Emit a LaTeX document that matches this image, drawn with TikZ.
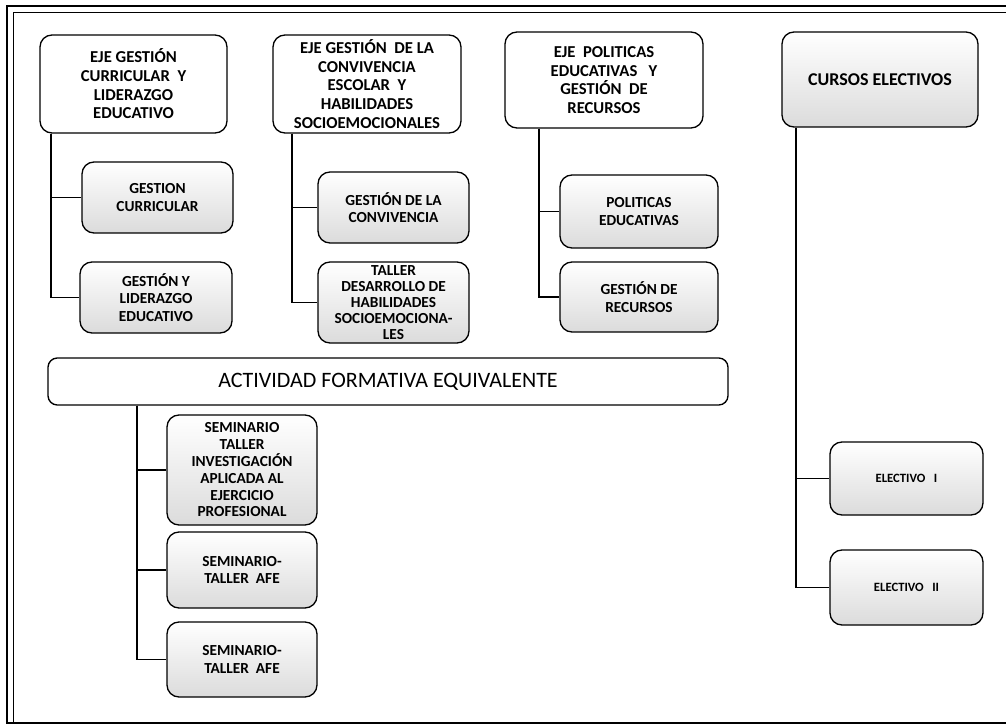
\documentclass[tikz,border=0pt]{standalone}
\usepackage{fontspec}
\setmainfont{Carlito}
\usetikzlibrary{positioning}

\tikzset{every picture/.style={line width=0.75pt}}
\tikzset{
  ejebox/.style={draw, line width=1pt, rounded corners=9pt, align=center, inner sep=2pt,
    font=\fontsize{12.5}{14}\selectfont\bfseries},
  subbox/.style={draw, line width=1pt, rounded corners=9pt, align=center, inner sep=2pt,
    top color=white, middle color=white, bottom color=gray!28,
    font=\fontsize{11.5}{13}\selectfont\bfseries},
  branch/.style={line width=1.3pt}
}

\begin{document}
\begin{tikzpicture}[x=0.75pt,y=0.75pt,yscale=-1,xscale=1]
\useasboundingbox (0,0) rectangle (1006,727);

%Frame
\draw [line width=1pt] (1006,6) -| (7,723) -- (1006,723) ;
\draw [line width=0.6pt] (1006,12) -| (13,723) ;

%Shape: Rounded Rect [id:eje1]
\node [ejebox, minimum width=140.25pt, minimum height=73.5pt] (eje1) at (133.5,84) {EJE GESTIÓN\\CURRICULAR\ \ Y\\LIDERAZGO\\EDUCATIVO};
%Shape: Rounded Rect [id:gc]
\node [subbox, minimum width=113.25pt, minimum height=53.25pt] (gc) at (157.5,197.5) {GESTION\\CURRICULAR};
%Shape: Rounded Rect [id:gl]
\node [subbox, minimum width=114pt, minimum height=53.25pt] (gl) at (156,297.5) {GESTIÓN Y\\LIDERAZGO\\EDUCATIVO};

%Shape: Rounded Rect [id:eje2]
\node [ejebox, minimum width=141pt, minimum height=73.5pt, inner sep=1pt] (eje2) at (367,84) {EJE GESTIÓN\ \ DE LA\\CONVIVENCIA\\ESCOLAR\ \ Y\\HABILIDADES\\SOCIOEMOCIONALES};
%Shape: Rounded Rect [id:gconv]
\node [subbox, minimum width=113.25pt, minimum height=53.25pt] (gconv) at (393.5,207.5) {GESTIÓN DE LA\\CONVIVENCIA};
%Shape: Rounded Rect [id:taller]
\node [subbox, minimum width=113.25pt, minimum height=60.75pt, inner sep=1pt,
  font=\fontsize{11.5}{12}\selectfont\bfseries] (taller) at (393.5,302.5) {TALLER\\DESARROLLO DE\\HABILIDADES\\SOCIOEMOCIONA-\\LES};

%Shape: Rounded Rect [id:eje3]
\node [ejebox, minimum width=148.5pt, minimum height=72pt] (eje3) at (604,80) {EJE\ \ POLITICAS\\EDUCATIVAS\ \ \ Y\\GESTIÓN\ \ DE\\RECURSOS};
%Shape: Rounded Rect [id:pol]
\node [subbox, minimum width=118.5pt, minimum height=54.75pt] (pol) at (639,211.5) {POLITICAS\\EDUCATIVAS};
%Shape: Rounded Rect [id:grec]
\node [subbox, minimum width=118.5pt, minimum height=52.5pt] (grec) at (639,297) {GESTIÓN DE\\RECURSOS};

%Shape: Rounded Rect [id:cursos]
\node [subbox, minimum width=147pt, minimum height=71.25pt,
  font=\fontsize{13.5}{15}\selectfont\bfseries] (cursos) at (880,79.5) {CURSOS ELECTIVOS};
%Shape: Rounded Rect [id:el1]
\node [subbox, minimum width=114.75pt, minimum height=54.75pt,
  font=\fontsize{9.5}{11}\selectfont\bfseries] (el1) at (906.5,478.5) {ELECTIVO\ \ \ I};
%Shape: Rounded Rect [id:el2]
\node [subbox, minimum width=114.75pt, minimum height=56.25pt,
  font=\fontsize{9.5}{11}\selectfont\bfseries] (el2) at (906.5,587.5) {ELECTIVO\ \ \ II};

%Shape: Rounded Rect [id:afe]
\node [ejebox, minimum width=510pt, minimum height=35.25pt, rounded corners=7pt,
  font=\fontsize{16.5}{18}\selectfont] (afe) at (388,381.5) {ACTIVIDAD FORMATIVA EQUIVALENTE};
%Shape: Rounded Rect [id:sem1]
\node [subbox, minimum width=112.5pt, minimum height=82.5pt, inner sep=1pt,
  font=\fontsize{11.5}{12.6}\selectfont\bfseries] (sem1) at (242,470) {SEMINARIO\\TALLER\\INVESTIGACIÓN\\APLICADA AL\\EJERCICIO\\PROFESIONAL};
%Shape: Rounded Rect [id:sem2]
\node [subbox, minimum width=112.5pt, minimum height=57pt] (sem2) at (242,570) {SEMINARIO-\\TALLER\ \ AFE};
%Shape: Rounded Rect [id:sem3]
\node [subbox, minimum width=112.5pt, minimum height=56.25pt] (sem3) at (242,659.5) {SEMINARIO-\\TALLER\ \ AFE};

%Straight Lines
\draw [branch] ([xshift=9pt]eje1.south west) |- (gc.west) ;
\draw [branch] ([xshift=9pt]eje1.south west) |- (gl.west) ;
\draw [branch] ([xshift=15pt]eje2.south west) |- (gconv.west) ;
\draw [branch] ([xshift=15pt]eje2.south west) |- (taller.west) ;
\draw [branch] ([xshift=26pt]eje3.south west) |- (pol.west) ;
\draw [branch] ([xshift=26pt]eje3.south west) |- (grec.west) ;
\draw [branch] ([xshift=11pt]cursos.south west) |- (el1.west) ;
\draw [branch] ([xshift=11pt]cursos.south west) |- (el2.west) ;
\draw [branch] ([xshift=67pt]afe.south west) |- (sem1.west) ;
\draw [branch] ([xshift=67pt]afe.south west) |- (sem2.west) ;
\draw [branch] ([xshift=67pt]afe.south west) |- (sem3.west) ;

\end{tikzpicture}
\end{document}
